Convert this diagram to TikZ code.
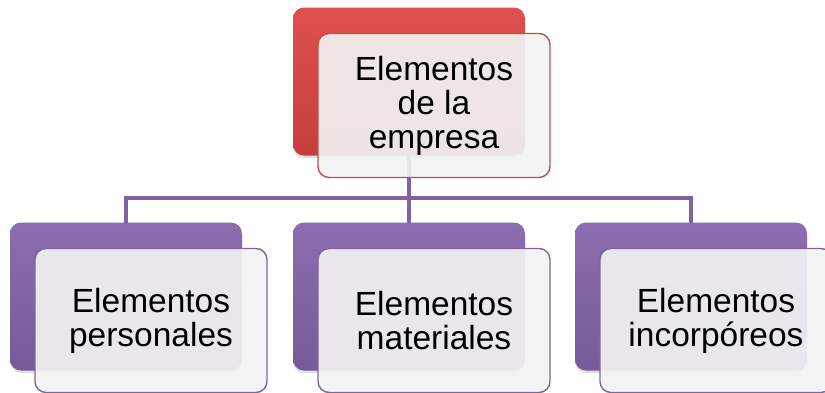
\documentclass[tikz,border=0pt]{standalone}
\usepackage{fontspec}
\setmainfont{Liberation Sans}
\usepackage{xcolor}
\usepackage{tikz}
\usetikzlibrary{positioning,shadows}
\definecolor{redtop}{HTML}{DE504D}
\definecolor{redbot}{HTML}{C63E3B}
\definecolor{redline}{HTML}{C0504D}
\definecolor{purtop}{HTML}{8C6EB0}
\definecolor{purbot}{HTML}{775A99}
\definecolor{purline}{HTML}{8064A2}
\definecolor{frontfill}{HTML}{F3F3F3}
\tikzset{
back/.style={
  rectangle,
  rounded corners=11pt,
  minimum width=232pt,
  minimum height=148pt,
  inner sep=0pt,
  outer sep=0pt,
  drop shadow={opacity=0.25, shadow xshift=0pt, shadow yshift=-2.5pt}
  },
redback/.style={back, top color=redtop, bottom color=redbot},
purback/.style={back, top color=purtop, bottom color=purbot},
front/.style={
  rectangle,
  rounded corners=11pt,
  minimum width=232pt,
  minimum height=144pt,
  inner sep=0pt,
  outer sep=0pt,
  fill=frontfill,
  fill opacity=0.92,
  text opacity=1,
  line width=1.4pt,
  align=center,
  font=\fontsize{33.5}{34}\selectfont
  },
redfront/.style={front, draw=redline},
purfront/.style={front, draw=purline},
conn/.style={draw=purline, line width=3.5pt}
}

\begin{document}
\begin{tikzpicture}[x=1pt,y=-1pt]
\useasboundingbox (0,0) rectangle (825,392);
\node[redback](empb) at (409,81.5){};
\node[purback, below=67pt of empb](matb){};
\node[purback, left=51pt of matb](persb){};
\node[purback, right=50pt of matb](incb){};
\coordinate (bar) at (0,198);
\draw[conn] (empb.south) -- (matb.north);
\draw[conn] (persb.north) |- (incb.north |- bar) -- (incb.north);
\node[redfront](empf) at ([shift={(25,24)}]empb){Elementos\\de la\\empresa};
\node[purfront](persf) at ([shift={(25,24)}]persb){Elementos\\personales};
\node[purfront](matf) at ([shift={(25,24)}]matb){Elementos\\materiales};
\node[purfront](incf) at ([shift={(25,24)}]incb){Elementos\\incorpóreos};
\end{tikzpicture}
\end{document}
